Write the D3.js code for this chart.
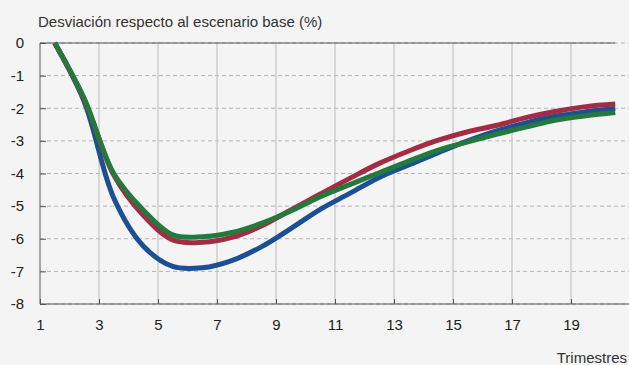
<!DOCTYPE html>
<html><head><meta charset="utf-8">
<script src="https://cdn.jsdelivr.net/npm/d3@7"></script>
<style>
html,body{margin:0;padding:0;background:#f4f4f4;}
svg{display:block;font-family:"Liberation Sans",Arial,Helvetica,sans-serif;}
</style></head>
<body>
<script>
const quarters = [1,2,3,4,5,6,7,8,9,10,11,12,13,14,15,16,17,18,19,20];
const blueSeries  = [0,-1.80,-4.75,-6.22,-6.85,-6.89,-6.67,-6.25,-5.69,-5.10,-4.61,-4.12,-3.74,-3.36,-3.00,-2.69,-2.44,-2.24,-2.11,-2.01];
const redSeries   = [0,-1.73,-4.05,-5.28,-6.04,-6.11,-5.96,-5.61,-5.12,-4.63,-4.15,-3.69,-3.31,-2.98,-2.72,-2.52,-2.28,-2.09,-1.95,-1.87];
const greenSeries = [0,-1.70,-4.00,-5.12,-5.88,-5.94,-5.81,-5.53,-5.15,-4.71,-4.34,-3.98,-3.62,-3.28,-3.03,-2.79,-2.57,-2.36,-2.23,-2.13];
const xTicks = [1,3,5,7,9,11,13,15,17,19];
const yTicks = [0,-1,-2,-3,-4,-5,-6,-7,-8];
const seriesColors = ["#1d4f95","#a32c45","#247a3c"];
const titleText = "Desviación respecto al escenario base (%)";
const xLabel = "Trimestres";

const W = 629, H = 365;
const svg = d3.select("body").append("svg").attr("width", W).attr("height", H);
svg.append("rect").attr("width", W).attr("height", H).attr("fill", "#f4f4f4");

const x = d3.scaleLinear().domain([1, 21]).range([40, 630]);
const y = d3.scaleLinear().domain([-8, 0]).range([304, 43]);

// horizontal dashed gridlines
svg.append("g").selectAll("line").data(yTicks).join("line")
  .attr("x1", 40).attr("x2", W).attr("y1", d => y(d)).attr("y2", d => y(d))
  .attr("stroke", "#b4b4b4").attr("stroke-width", 1).attr("stroke-dasharray", "4,3");

// vertical solid gridlines
svg.append("g").selectAll("line").data(xTicks.filter(d => d > 1)).join("line")
  .attr("x1", d => x(d)).attr("x2", d => x(d)).attr("y1", 43).attr("y2", 304)
  .attr("stroke", "#c4c4c4").attr("stroke-width", 1.2);

const fmt = d => String(d);

// y axis
const yAxis = d3.axisLeft(y).tickValues(yTicks).tickSize(-6).tickPadding(16).tickFormat(fmt);
const gy = svg.append("g").attr("transform", "translate(40,0)").call(yAxis);
gy.select(".domain").attr("stroke", "#555").attr("d", `M0,${y(0)}V${y(-8)}`);
gy.selectAll(".tick line").attr("stroke", "#555");
gy.selectAll(".tick text").attr("font-size", 15).attr("fill", "#222")
  .attr("font-family", "Liberation Sans, Arial, sans-serif");

// x axis
const xAxis = d3.axisBottom(x).tickValues(xTicks).tickSize(-5).tickPadding(15).tickFormat(fmt);
const gx = svg.append("g").attr("transform", "translate(0,304)").call(xAxis);
gx.select(".domain").attr("stroke", "#555").attr("d", `M40,0H${W}`);
gx.selectAll(".tick line").attr("stroke", "#555");
gx.selectAll(".tick text").attr("font-size", 15).attr("fill", "#222")
  .attr("font-family", "Liberation Sans, Arial, sans-serif");

// zero line over the data range
svg.append("line").attr("x1", 40).attr("x2", x(quarters[quarters.length-1] + 0.5))
  .attr("y1", y(0)).attr("y2", y(0)).attr("stroke", "#555").attr("stroke-width", 1.2);

// series
const line = d3.line().x((d, i) => x(quarters[i] + 0.5)).y(d => y(d)).curve(d3.curveCatmullRom.alpha(0.5));
[blueSeries, redSeries, greenSeries].forEach((s, k) => {
  svg.append("path").datum(s).attr("d", line).attr("fill", "none")
    .attr("stroke", seriesColors[k]).attr("stroke-width", 5).attr("stroke-linejoin", "round");
});

svg.append("text").attr("x", 38).attr("y", 27).attr("font-size", 15).attr("fill", "#333").text(titleText);
svg.append("text").attr("x", 627).attr("y", 363).attr("text-anchor", "end").attr("font-size", 15).attr("fill", "#333").text(xLabel);
</script>
</body></html>
